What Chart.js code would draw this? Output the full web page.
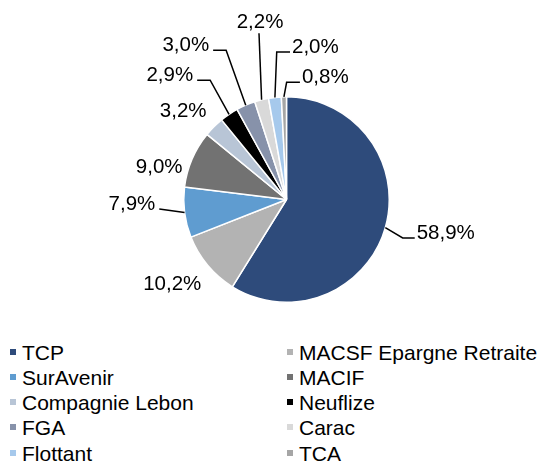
<!DOCTYPE html>
<html>
<head>
<meta charset="utf-8">
<script src="https://cdn.jsdelivr.net/npm/chart.js"></script>
<style>
  body { margin: 0; background: #fff; font-family: "Liberation Sans", Arial, sans-serif; }
  #wrap { position: relative; width: 548px; height: 461px; overflow: hidden; }
  #pie { position: absolute; left: 0; top: 0; }
  .lg { position: absolute; height: 25px; line-height: 25px; font-size: 21px; color: #000; white-space: nowrap; }
  .lg i { position: absolute; left: 0; top: 9px; width: 6px; height: 6px; }
  .lg span { position: absolute; left: 12.5px; top: 0; }
</style>
</head>
<body>
<div id="wrap">
  <canvas id="pie" width="548" height="330"></canvas>
</div>
<script>
// Répartition (ordre horaire depuis midi)
const labels = ["TCP", "MACSF Epargne Retraite", "SurAvenir", "MACIF", "Compagnie Lebon",
                "Neuflize", "FGA", "Carac", "Flottant", "TCA"];
const values = [58.9, 10.2, 7.9, 9.0, 3.2, 2.9, 3.0, 2.2, 2.0, 0.8];
const valueLabels = ["58,9%", "10,2%", "7,9%", "9,0%", "3,2%", "2,9%", "3,0%", "2,2%", "2,0%", "0,8%"];
const colors = ["#2E4B7B", "#B3B3B3", "#5F9CD0", "#727272", "#B8C5D6",
                "#000000", "#8792AA", "#D9D9D9", "#A6C9EC", "#A6A6A6"];

// placement des étiquettes, relatif au point du bord de chaque part
// leader: [coude, fin] ; side = côté du texte par rapport à la fin du trait
const labelLayout = [
  { elbow: [17.4, 10.3], end: [29.4, 10.3], side: "right" },
  { text: [-35.4, 18.6] },
  { elbow: [-25.3, -3.6], end: [-25.3, -3.6], side: "left" },
  { text: [-32.8, 7.9] },
  { text: [-30.7, -15.7] },
  { elbow: [-18.9, -34.1], end: [-31.9, -34.1], side: "left" },
  { elbow: [-19.6, -55], end: [-32.6, -55], side: "left" },
  { elbow: [-2.6, -66.6], end: [-2.6, -66.6], side: "top" },
  { elbow: [1.8, -45.5], end: [15.1, -45.5], side: "right" },
  { elbow: [2.7, -14.5], end: [16, -14.5], side: "right" }
];

const pieLabels = {
  id: "pieLabels",
  afterDatasetsDraw(chart) {
    const ctx = chart.ctx;
    const arcs = chart.getDatasetMeta(0).data;
    ctx.save();
    ctx.font = "20.5px 'Liberation Sans', Arial, sans-serif";
    ctx.fillStyle = "#000";
    ctx.strokeStyle = "#000";
    ctx.lineWidth = 1.5;
    arcs.forEach((arc, i) => {
      const { x, y, startAngle, endAngle, outerRadius } = arc.getProps(["x", "y", "startAngle", "endAngle", "outerRadius"], true);
      const mid = (startAngle + endAngle) / 2;
      const ex = x + Math.cos(mid) * outerRadius;
      const ey = y + Math.sin(mid) * outerRadius;
      const L = labelLayout[i];
      const txt = valueLabels[i];
      if (L.text) {
        ctx.textAlign = "center";
        ctx.textBaseline = "middle";
        ctx.fillText(txt, ex + L.text[0], ey + L.text[1]);
        return;
      }
      const bx = ex + L.elbow[0], by = ey + L.elbow[1];
      const fx = ex + L.end[0], fy = ey + L.end[1];
      ctx.beginPath();
      ctx.moveTo(ex, ey);
      ctx.lineTo(bx, by);
      ctx.lineTo(fx, fy);
      ctx.stroke();
      if (L.side === "right") {
        ctx.textAlign = "left";
        ctx.textBaseline = "middle";
        ctx.fillText(txt, fx + 2, fy - 5);
      } else if (L.side === "left") {
        ctx.textAlign = "right";
        ctx.textBaseline = "middle";
        ctx.fillText(txt, fx - 4, fy - 5);
      } else {
        ctx.textAlign = "center";
        ctx.textBaseline = "middle";
        ctx.fillText(txt, fx + 1, fy - 10.5);
      }
    });
    ctx.restore();
  }
};

new Chart(document.getElementById("pie"), {
  type: "pie",
  data: {
    labels,
    datasets: [{
      data: values,
      backgroundColor: colors,
      borderColor: "#fff",
      borderWidth: 1.5
    }]
  },
  options: {
    responsive: false,
    animation: false,
    layout: { padding: { left: 183, right: 158, top: 96, bottom: 27 } },
    plugins: { legend: { display: false }, tooltip: { enabled: false } }
  },
  plugins: [pieLabels]
});

// légende sur deux colonnes
const wrap = document.getElementById("wrap");
labels.forEach((name, i) => {
  const col = i % 2, row = Math.floor(i / 2);
  const d = document.createElement("div");
  d.className = "lg";
  d.style.left = (col ? 286.5 : 9.5) + "px";
  d.style.top = (339.5 + row * 25.25) + "px";
  d.innerHTML = `<i style="background:${colors[i]}"></i><span>${name}</span>`;
  wrap.appendChild(d);
});
</script>
</body>
</html>
